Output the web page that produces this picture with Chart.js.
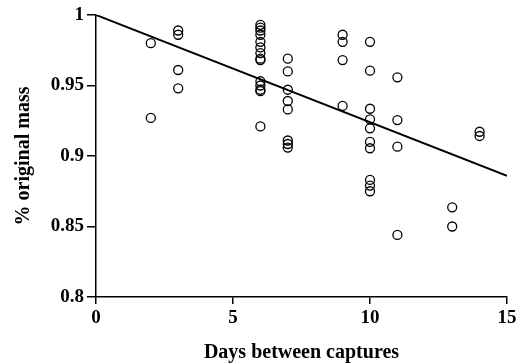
<!DOCTYPE html>
<html><head><meta charset="utf-8">
<script src="https://cdn.jsdelivr.net/npm/chart.js@4/dist/chart.umd.min.js"></script>
<style>html,body{margin:0;padding:0;background:#fff}#wrap{width:527px;height:363px}</style>
</head><body><div id="wrap"><canvas id="c" width="527" height="363"></canvas></div>
<script>
const days = [2,2, 3,3,3,3, 6,6,6,6,6,6,6,6,6,6,6,6,6,6, 7,7,7,7,7,7,7,7, 9,9,9,9, 10,10,10,10,10,10,10,10,10,10, 11,11,11,11, 13,13, 14,14];
const mass = [0.980,0.927, 0.989,0.986,0.961,0.948,
  0.993,0.991,0.989,0.986,0.981,0.977,0.973,0.969,0.968,0.953,0.950,0.947,0.946,0.921,
  0.969,0.960,0.947,0.939,0.933,0.911,0.9085,0.906,
  0.986,0.981,0.968,0.9355,
  0.981,0.9605,0.9335,0.926,0.9196,0.910,0.9055,0.883,0.879,0.875,
  0.9558,0.9255,0.9066,0.844,
  0.8636,0.850,
  0.9172,0.9142];
const fitX = [0, 15];
const fitY = [1.0, 0.886];
const yTickValues = [0.8, 0.85, 0.9, 0.95, 1];
const yTickLabels = ['0.8','0.85','0.9','0.95','1'];
const xTickValues = [0, 5, 10, 15];
const xTickLabels = ['0','5','10','15'];

const serif = '"Liberation Serif", "DejaVu Serif", serif';
new Chart(document.getElementById('c'), {
  type: 'scatter',
  data: {
    datasets: [
      {
        data: days.map((d,i)=>({x:d,y:mass[i]})),
        pointStyle: 'circle', pointRadius: 4.5, pointBorderWidth: 1.3,
        borderColor: '#000', backgroundColor: 'rgba(255,255,255,0)', pointHoverRadius: 4.5
      },
      {
        type: 'line',
        data: fitX.map((x,i)=>({x:x,y:fitY[i]})),
        borderColor: '#000', borderWidth: 2, pointRadius: 0, fill: false
      }
    ]
  },
  options: {
    responsive: false, animation: false, devicePixelRatio: 1,
    layout: { padding: { top: 15, right: 20, left: 0, bottom: 0 } },
    plugins: { legend: { display: false }, tooltip: { enabled: false } },
    scales: {
      x: {
        type: 'linear', min: 0, max: 15,
        afterFit: s => { s.height = 66; },
        afterBuildTicks: s => { s.ticks = xTickValues.map(v => ({ value: v })); },
        ticks: { color: '#000', font: { family: serif, size: 19, weight: 'bold' }, padding: 3,
          callback: (v) => { const i = xTickValues.indexOf(v); return i >= 0 ? xTickLabels[i] : ''; } },
        grid: { drawOnChartArea: false, drawTicks: true, tickLength: 7, color: '#000', lineWidth: 1.5 },
        border: { display: true, color: '#000', width: 1.5 },
        title: { display: true, text: 'Days between captures', color: '#000', font: { family: serif, size: 20, weight: 'bold', lineHeight: 1 }, padding: { top: 4, bottom: 0 } }
      },
      y: {
        type: 'linear', min: 0.8, max: 1,
        afterFit: s => { s.width = 96; },
        afterBuildTicks: s => { s.ticks = yTickValues.map(v => ({ value: v })); },
        ticks: { color: '#000', font: { family: serif, size: 19, weight: 'bold' }, padding: 3,
          callback: (v) => { const i = yTickValues.findIndex(t => Math.abs(t - v) < 1e-6); return i >= 0 ? yTickLabels[i] : ''; } },
        grid: { drawOnChartArea: false, drawTicks: true, tickLength: 9, color: '#000', lineWidth: 1.5 },
        border: { display: true, color: '#000', width: 1.5 },
        title: { display: true, text: '% original mass', color: '#000', font: { family: serif, size: 20, weight: 'bold', lineHeight: 1 }, padding: { top: 14, bottom: 0 } }
      }
    }
  }
});
</script></body></html>
